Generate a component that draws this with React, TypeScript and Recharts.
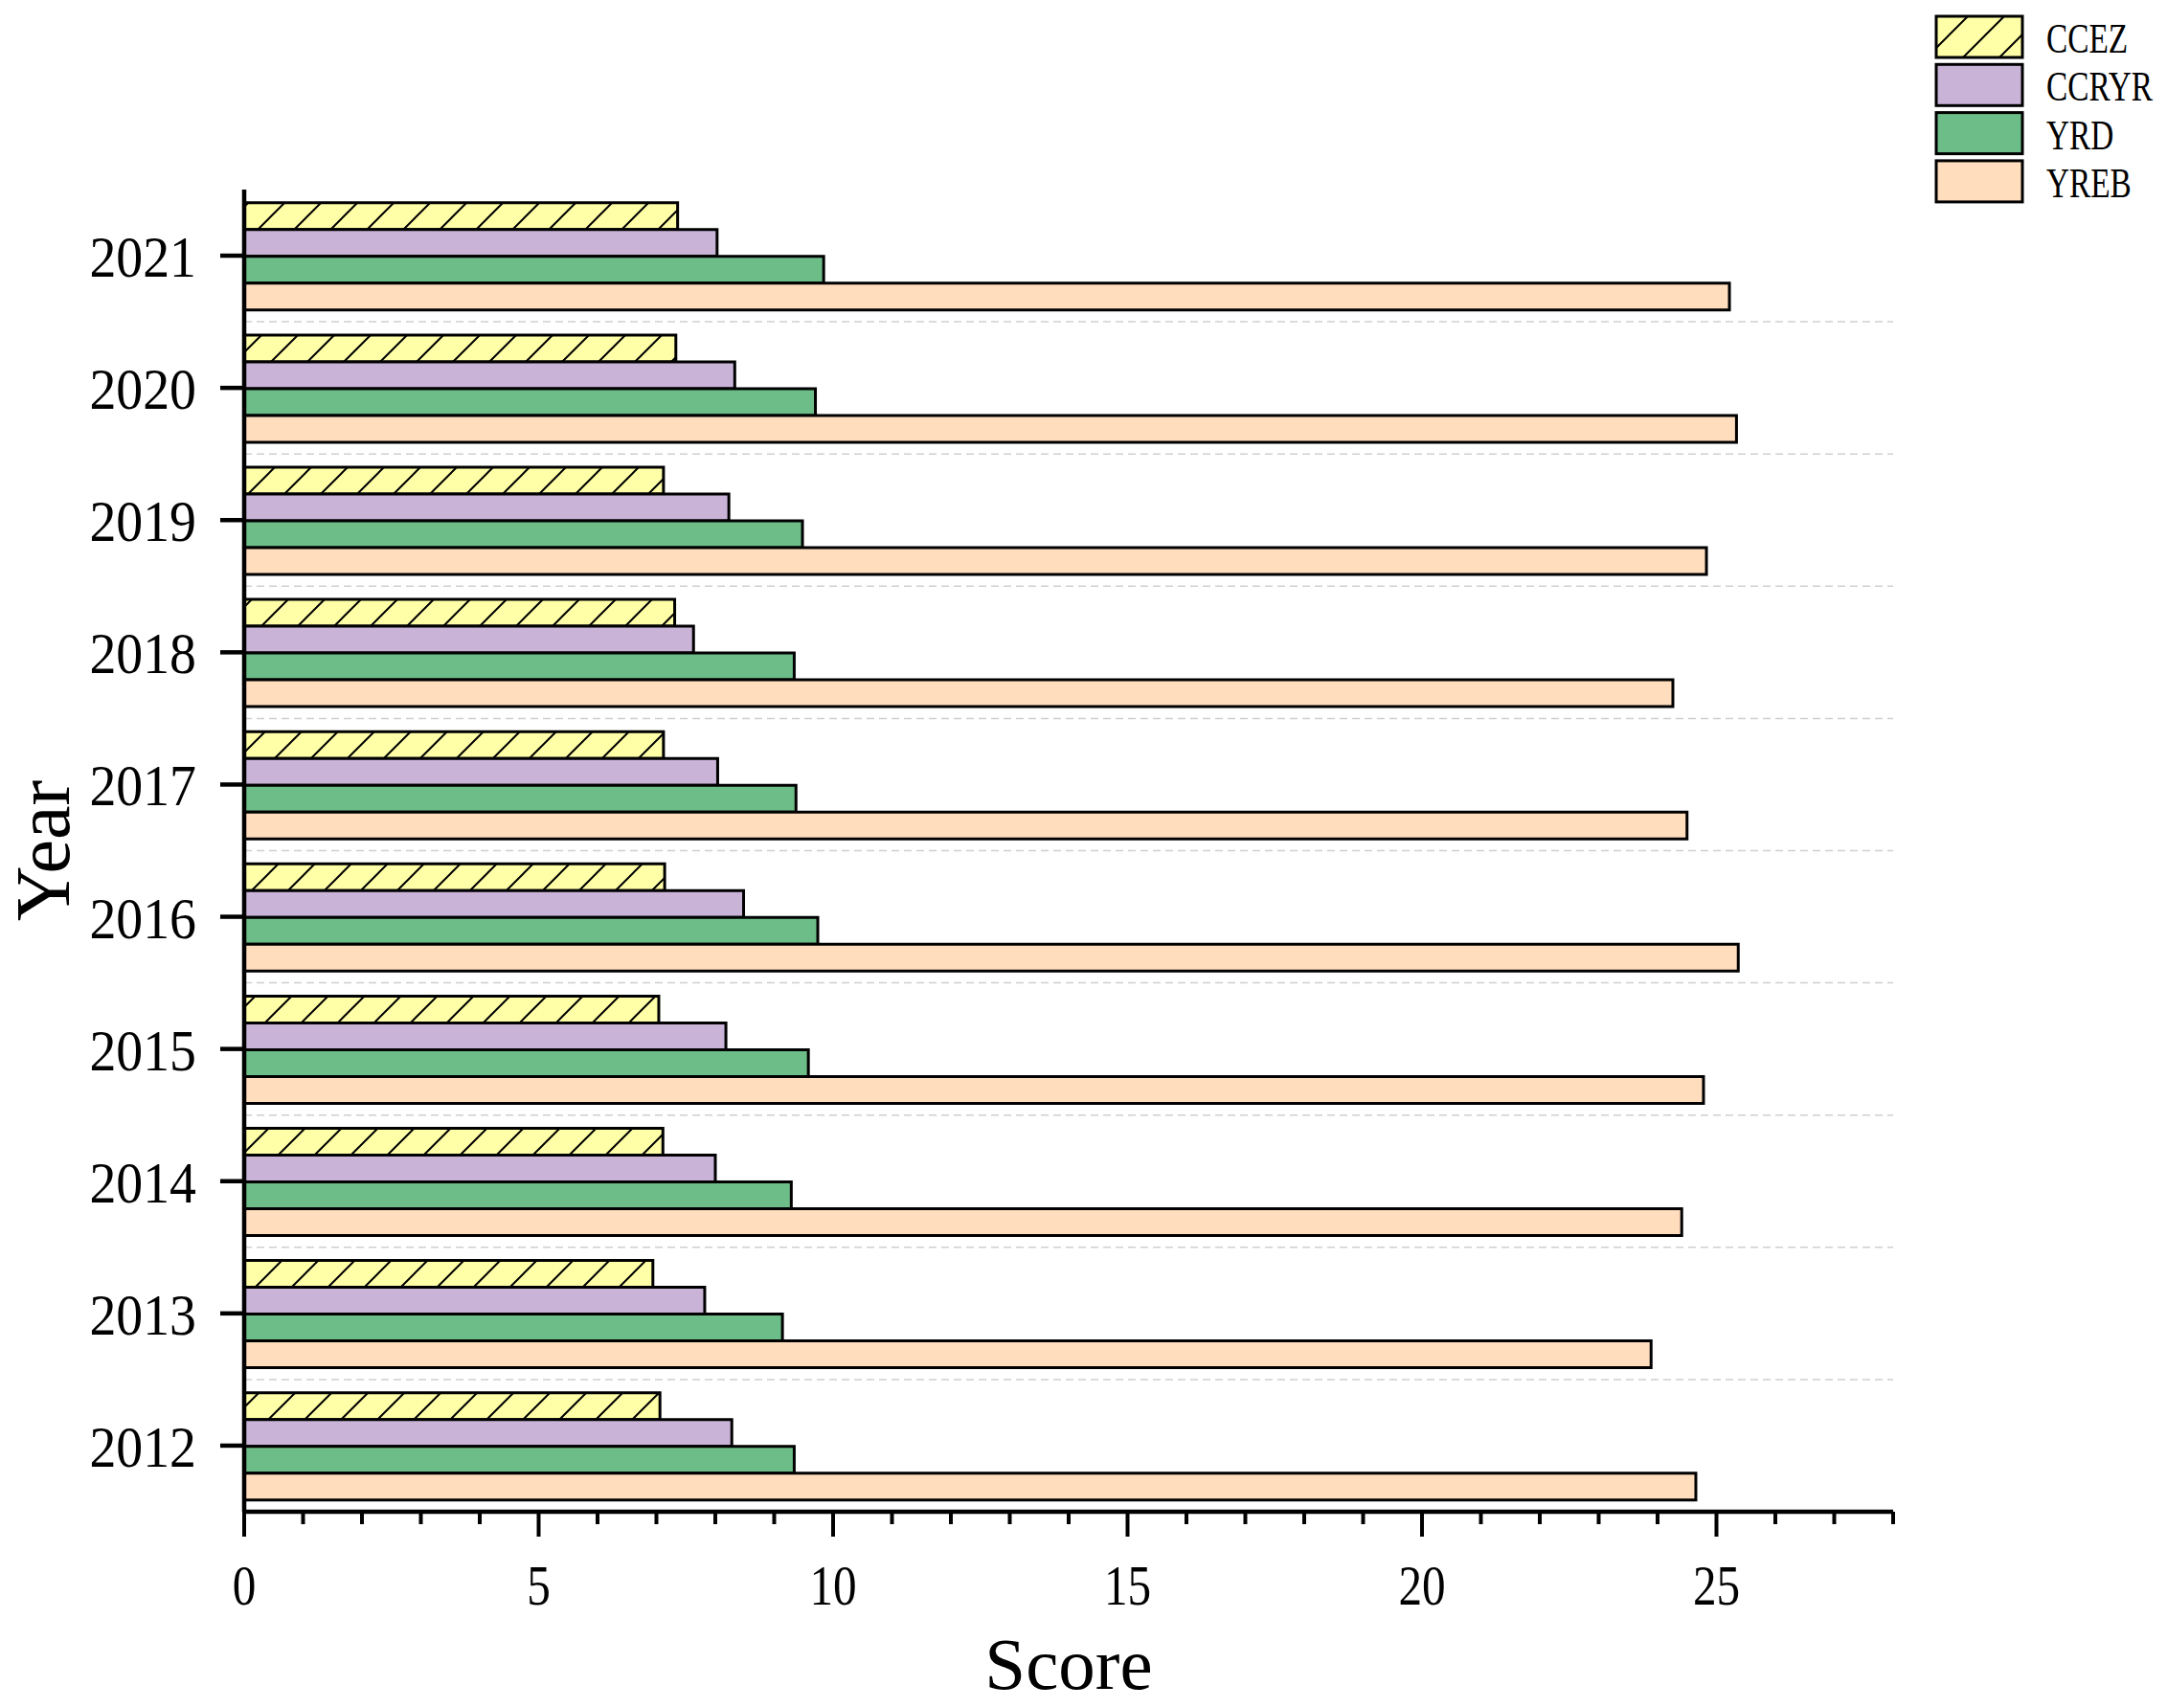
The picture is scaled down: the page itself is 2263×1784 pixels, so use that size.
import React from 'react';
import { BarChart, Bar, XAxis, YAxis, CartesianGrid, Legend } from 'recharts';

const years = ['2012', '2013', '2014', '2015', '2016', '2017', '2018', '2019', '2020', '2021'];
const ccez = [7.06, 6.94, 7.11, 7.04, 7.14, 7.12, 7.31, 7.12, 7.33, 7.36];
const ccryr = [8.28, 7.82, 8.0, 8.18, 8.48, 8.04, 7.63, 8.23, 8.33, 8.03];
const yrd = [9.34, 9.14, 9.29, 9.58, 9.74, 9.37, 9.34, 9.48, 9.7, 9.84];
const yreb = [24.65, 23.89, 24.41, 24.78, 25.37, 24.5, 24.26, 24.83, 25.34, 25.22];

const seriesNames = ['CCEZ', 'CCRYR', 'YRD', 'YREB'];
const xTicks = [0, 1, 2, 3, 4, 5, 6, 7, 8, 9, 10, 11, 12, 13, 14, 15, 16, 17, 18, 19, 20, 21, 22, 23, 24, 25, 26, 27, 28];
const xMajorStep = 5;
const bandEdges = [0, 1, 2, 3, 4, 5, 6, 7, 8, 9, 10];
const gridEdges = [1, 2, 3, 4, 5, 6, 7, 8, 9];
const bandCount = years.length;

const data = years.map((year, i) => ({
  year,
  CCEZ: ccez[i],
  CCRYR: ccryr[i],
  YRD: yrd[i],
  YREB: yreb[i],
}));

const FONT = '"Liberation Serif", "Times New Roman", serif';
const COLORS: Record<string, string> = {
  CCEZ: '#FFFFA8',
  CCRYR: '#C9B3D7',
  YRD: '#6DBD88',
  YREB: '#FFDDBD',
};

const XTick = (props: any) => {
  const { x, y, payload } = props;
  const major = payload.value % xMajorStep === 0 && payload.value <= 25;
  return (
    <g>
      <line x1={x} x2={x} y1={y} y2={y + (major ? 26 : 13)} stroke="#000" strokeWidth={4} />
      {major && (
        <text
          transform={`translate(${x},${y + 97}) scale(0.82,1)`}
          textAnchor="middle"
          fontSize={60}
          fontFamily={FONT}
          fill="#000"
        >
          {payload.value}
        </text>
      )}
    </g>
  );
};

const YTick = (props: any) => {
  const { x, y, payload } = props;
  return (
    <text
      transform={`translate(${x},${y + 22}) scale(0.9,1)`}
      textAnchor="end"
      fontSize={62}
      fontFamily={FONT}
      fill="#000"
    >
      {payload.value}
    </text>
  );
};

const ScoreLabel = (props: any) => {
  const vb = props.viewBox || {};
  return (
    <text
      x={vb.x + vb.width / 2}
      y={vb.y + 185}
      textAnchor="middle"
      fontSize={77}
      fontFamily={FONT}
      fill="#000"
    >
      Score
    </text>
  );
};

const YearLabel = (props: any) => {
  const vb = props.viewBox || {};
  return (
    <text
      transform={`translate(${vb.x + 72},${vb.y + vb.height / 2}) rotate(-90)`}
      textAnchor="middle"
      fontSize={80}
      fontFamily={FONT}
      fill="#000"
    >
      Year
    </text>
  );
};

const LegendContent = (props: any) => {
  const payload = props.payload || [];
  return (
    <svg width={263} height={230} style={{ display: 'block' }}>
      <defs>
        <pattern id="hatchLegend" patternUnits="userSpaceOnUse" width={38} height={38} x={6} y={0}>
          <rect width={38} height={38} fill={COLORS.CCEZ} />
          <path d="M0,38 L38,0 M-10,10 L10,-10 M28,48 L48,28" stroke="#000" strokeWidth={2} />
        </pattern>
      </defs>
      {payload.map((e: any, i: number) => {
        const name = e.value;
        const top = 17 + i * 50.3;
        return (
          <g key={name}>
            <rect
              x={32}
              y={top}
              width={90}
              height={43}
              fill={name === 'CCEZ' ? 'url(#hatchLegend)' : COLORS[name]}
              stroke="#000"
              strokeWidth={3}
            />
            <text
              transform={`translate(147,${top + 38}) scale(0.74,1)`}
              fontSize={45}
              fontFamily={FONT}
              fill="#000"
            >
              {name}
            </text>
          </g>
        );
      })}
    </svg>
  );
};

const gridGenerator = (args: any) => {
  const off = args.offset;
  return gridEdges.map((v) => off.top + (off.height * v) / bandCount);
};

export default function App() {
  return (
    <div style={{ position: 'absolute', left: 0, top: 0, width: 2263, height: 1784, background: '#fff' }}>
      <BarChart
        width={2263}
        height={1784}
        data={data}
        layout="vertical"
        margin={{ top: 198, right: 286, bottom: 0, left: 0 }}
        barCategoryGap="10%"
        barGap={0}
      >
        <defs>
          <pattern id="hatchBar" patternUnits="userSpaceOnUse" width={38} height={38} x={15} y={0}>
            <rect width={38} height={38} fill={COLORS.CCEZ} />
            <path d="M0,38 L38,0 M-10,10 L10,-10 M28,48 L48,28" stroke="#000" strokeWidth={2} />
          </pattern>
        </defs>
        <CartesianGrid
          vertical={false}
          horizontalCoordinatesGenerator={gridGenerator}
          stroke="#cfcfcf"
          strokeDasharray="8 5"
          strokeWidth={1.5}
        />
        <YAxis
          yAxisId="edge"
          type="number"
          orientation="left"
          domain={[0, 10]}
          ticks={bandEdges}
          interval={0}
          width={0}
          axisLine={false}
          tick={false}
          tickSize={13}
          tickLine={{ stroke: '#000', strokeWidth: 4.5 }}
        />
        <YAxis
          yAxisId="cat"
          type="category"
          dataKey="year"
          reversed
          width={255}
          interval={0}
          tickSize={25}
          tickMargin={25}
          tick={<YTick />}
          tickLine={{ stroke: '#000', strokeWidth: 4.5 }}
          axisLine={{ stroke: '#000', strokeWidth: 4.5 }}
          label={{ content: <YearLabel /> }}
        />
        <XAxis
          type="number"
          domain={[0, 28]}
          ticks={xTicks}
          interval={0}
          height={205}
          tickSize={0}
          tickMargin={0}
          tickLine={false}
          tick={<XTick />}
          axisLine={{ stroke: '#000', strokeWidth: 4.5 }}
          label={{ content: <ScoreLabel /> }}
        />
        <Legend
          layout="vertical"
          align="center"
          verticalAlign="middle"
          content={<LegendContent />}
          wrapperStyle={{ left: 1990, top: 0, width: 263, height: 230 }}
        />
        {seriesNames.map((name) => (
          <Bar
            key={name}
            yAxisId="cat"
            dataKey={name}
            name={name}
            fill={name === 'CCEZ' ? 'url(#hatchBar)' : COLORS[name]}
            stroke="#000"
            strokeWidth={3}
            isAnimationActive={false}
          />
        ))}
      </BarChart>
    </div>
  );
}
